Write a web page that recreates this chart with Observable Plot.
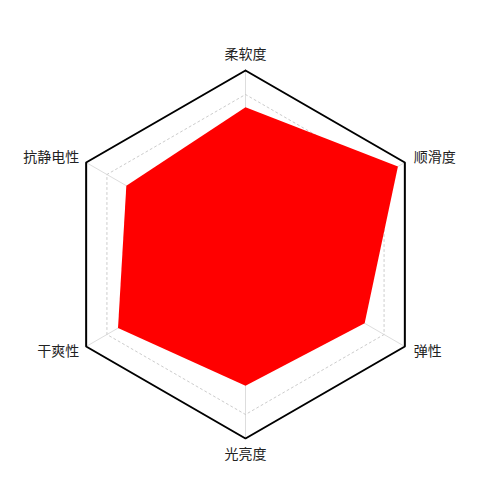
<!DOCTYPE html>
<html>
<head>
<meta charset="utf-8">
<script src="https://cdn.jsdelivr.net/npm/d3@7"></script>
<script src="https://cdn.jsdelivr.net/npm/@observablehq/plot@0.6"></script>
<style>
  html, body { margin: 0; padding: 0; background: #fff; }
  #chart { width: 500px; height: 498px; }
</style>
</head>
<body>
<div id="chart"></div>
<script>
// Data
const categories = ["柔软度", "顺滑度", "弹性", "光亮度", "干爽性", "抗静电性"];
const values = [92, 110, 86, 82, 92, 86];
const maxValue = 115;
const gridValues = [100];

const n = categories.length;
const angleOf = i => Math.PI / 2 - i * 2 * Math.PI / n; // start at top, clockwise
const pt = (i, v) => ({x: (v / maxValue) * Math.cos(angleOf(i)), y: (v / maxValue) * Math.sin(angleOf(i))});

const outer = d3.range(n + 1).map(i => ({...pt(i % n, maxValue), id: "outer"}));
const grid = gridValues.flatMap(g => d3.range(n + 1).map(i => ({...pt(i % n, g), id: "g" + g})));
const spokes = d3.range(n).map(i => ({x1: 0, y1: 0, x2: pt(i, maxValue).x, y2: pt(i, maxValue).y}));
const series = d3.range(n).map(i => ({...pt(i, values[i]), label: categories[i]}));
const labels = categories.map((c, i) => {
  const p = pt(i, maxValue);
  const a = angleOf(i);
  return {x: p.x, y: p.y, label: c, cx: Math.cos(a), sy: Math.sin(a)};
});
const labTop = labels.filter(d => Math.abs(d.cx) < 0.01 && d.sy > 0);
const labBottom = labels.filter(d => Math.abs(d.cx) < 0.01 && d.sy < 0);
const labRightUp = labels.filter(d => d.cx > 0.01 && d.sy > 0);
const labRightDown = labels.filter(d => d.cx > 0.01 && d.sy < 0);
const labLeftUp = labels.filter(d => d.cx < -0.01 && d.sy > 0);
const labLeftDown = labels.filter(d => d.cx < -0.01 && d.sy < 0);

const font = {fontSize: 14, fill: "#222"};
const cx0 = 245, cy0 = 254, R = 184;
const chart = Plot.plot({
  width: 500,
  height: 498,
  margin: 0,
  style: {fontFamily: '"Noto Sans CJK SC", "Noto Sans", sans-serif', background: "#fff"},
  x: {domain: [-1, 1], range: [cx0 - R, cx0 + R], axis: null},
  y: {domain: [-1, 1], range: [cy0 + R, cy0 - R], axis: null},
  marks: [
    Plot.link(spokes, {x1: "x1", y1: "y1", x2: "x2", y2: "y2", stroke: "#ddd", strokeWidth: 1}),
    Plot.line(grid, {x: "x", y: "y", z: "id", stroke: "#ccc", strokeWidth: 1, strokeDasharray: "2,3"}),
    Plot.line(outer, {x: "x", y: "y", stroke: "#000", strokeWidth: 2, strokeLinejoin: "miter"}),
    Plot.line(series.concat([series[0]]), {x: "x", y: "y", fill: "#ff0000", stroke: "none"}),
    Plot.text(labTop, {x: "x", y: "y", text: "label", textAnchor: "middle", dy: -16, ...font}),
    Plot.text(labBottom, {x: "x", y: "y", text: "label", textAnchor: "middle", dy: 16, ...font}),
    Plot.text(labRightUp, {x: "x", y: "y", text: "label", textAnchor: "start", dx: 9, dy: -5, ...font}),
    Plot.text(labRightDown, {x: "x", y: "y", text: "label", textAnchor: "start", dx: 9, dy: 5, ...font}),
    Plot.text(labLeftUp, {x: "x", y: "y", text: "label", textAnchor: "end", dx: -7, dy: -5, ...font}),
    Plot.text(labLeftDown, {x: "x", y: "y", text: "label", textAnchor: "end", dx: -7, dy: 5, ...font})
  ]
});
document.getElementById("chart").append(chart);
</script>
</body>
</html>
